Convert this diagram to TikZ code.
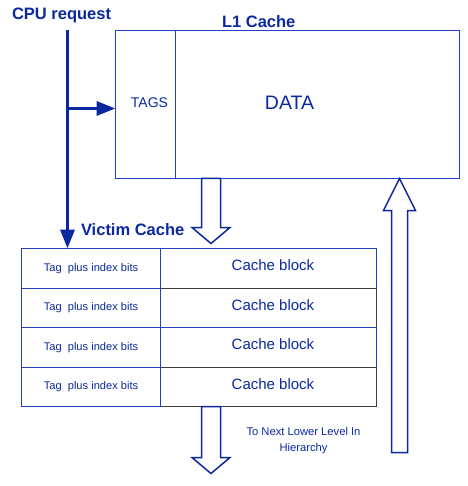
\documentclass[tikz,border=0pt]{standalone}
\usepackage{fontspec}
\setmainfont{Liberation Sans}
\usetikzlibrary{positioning,arrows.meta,calc}
\definecolor{vcblue}{RGB}{10,40,160}
\definecolor{vcline}{RGB}{35,65,195}
\definecolor{vcgray}{RGB}{60,60,60}

\begin{document}
\begin{tikzpicture}[
    x=1pt, y=-1pt,
    every node/.style={text=vcblue},
    title/.style={font=\fontsize{16.5}{19}\selectfont\bfseries},
    box/.style={draw=vcline, line width=1pt, inner sep=0pt, outer sep=0pt},
    tagcell/.style={box, minimum width=139pt, minimum height=39.5pt, font=\fontsize{11.1}{13}\selectfont},
    blkcell/.style={box, draw=#1, minimum width=216pt, minimum height=39.5pt},
    cpuline/.style={draw=vcblue, line width=3.5pt, -{Triangle[length=19pt,width=14pt]}},
    hollow/.style={draw=vcblue, line width=1.5pt, fill=white, line join=miter},
  ]
  \useasboundingbox (-0.5,-0.5) rectangle (466.5,485.5);

  % L1 cache
  \node[box, minimum width=60pt, minimum height=148pt, anchor=north west] (tags) at (115,30) {};
  \node[box, minimum width=284pt, minimum height=148pt, anchor=north west] (data) at (tags.north east) {};
  \node[font=\fontsize{14}{16}\selectfont] (tagstxt) at (149,102) {TAGS};
  \node[font=\fontsize{19.5}{22}\selectfont] (datatxt) at (289,102) {DATA};
  \node[title, anchor=base west] (l1txt) at (218,27) {L1 Cache};

  % Victim cache rows
  \foreach \i/\c in {1/vcline,2/vcgray,3/vcline,4/vcgray}{
    \node[blkcell=\c, anchor=north west] (blk\i) at (160,{248+39.5*(\i-1)}) {};
    \node[tagcell, anchor=north east] (tag\i) at (blk\i.north west) {Tag\ \ plus index bits};
    \node[font=\fontsize{15}{18}\selectfont] (blktxt\i) at ($(blk\i.center)+(4.5,-2.8)$) {Cache block};
  }
  \node[title, anchor=base west] (victxt) at (77,235) {Victim Cache};

  % CPU request
  \node[title, anchor=base west] (cputxt) at (8,19.5) {CPU request};
  \coordinate (cputop) at (67,30);
  \coordinate (cpujoin) at (67,108);
  \draw[cpuline] (cputop) -- (cputop |- tag1.north);
  \draw[cpuline] (cpujoin) -- (cpujoin -| tags.west);

  % Hollow arrows
  \coordinate (evict) at (210.5,0 |- data.south);
  \draw[hollow] (evict) ++(-9.5,0) -- ++(0,49) -- ++(-9.5,0) -- ++(19,16) -- ++(19,-16) -- ++(-9.5,0) -- ++(0,-49) -- cycle;
  \coordinate (spill) at (210.5,0 |- tag4.south);
  \draw[hollow] (spill) ++(-9.5,0) -- ++(0,51) -- ++(-9.5,0) -- ++(19,16) -- ++(19,-16) -- ++(-9.5,0) -- ++(0,-51) -- cycle;
  \coordinate (refill) at (399,452);
  \draw[hollow] (refill) ++(-8,0) -- ++(0,-242) -- ++(-8,0) -- ++(16,-32) -- ++(16,32) -- ++(-8,0) -- ++(0,242) -- cycle;

  \node[font=\fontsize{11.2}{16}\selectfont, align=center] (nexttxt) at (303,440) {To Next Lower Level In\\Hierarchy};
\end{tikzpicture}
\end{document}
